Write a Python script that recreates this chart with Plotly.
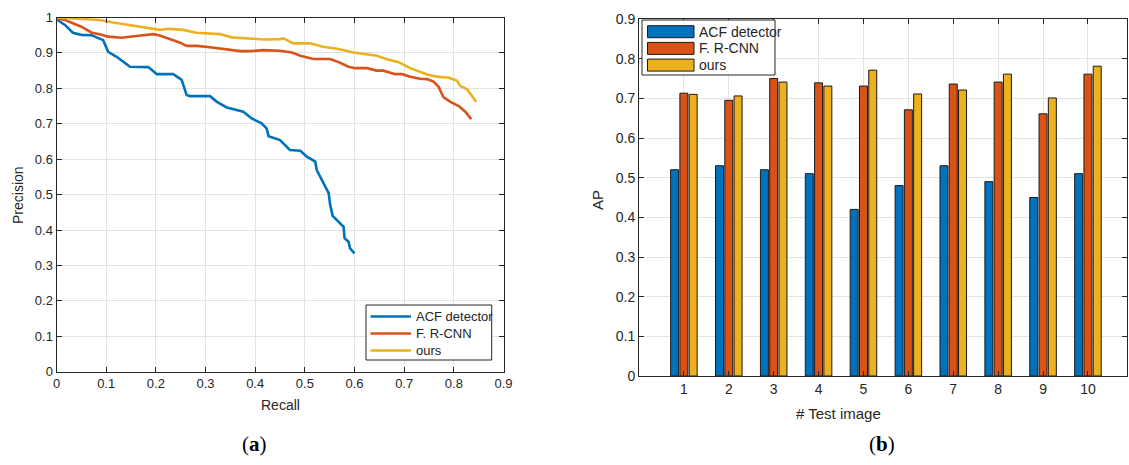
import plotly.graph_objects as go

# ---------------- data ----------------
series_names = ["ACF detector", "F. R-CNN", "ours"]

acf_recall = [0, 0.017, 0.033, 0.050, 0.071, 0.087, 0.094, 0.104, 0.121, 0.148, 0.161, 0.185, 0.202, 0.235,
              0.252, 0.262, 0.269, 0.309, 0.323, 0.343, 0.376, 0.393, 0.413, 0.423, 0.427, 0.450, 0.470,
              0.491, 0.504, 0.521, 0.524, 0.544, 0.548, 0.551, 0.556, 0.578, 0.580, 0.588, 0.591, 0.600]
acf_prec = [0.995, 0.979, 0.957, 0.951, 0.950, 0.941, 0.936, 0.903, 0.889, 0.861, 0.860, 0.860, 0.840, 0.840,
            0.824, 0.781, 0.778, 0.778, 0.762, 0.746, 0.734, 0.715, 0.701, 0.687, 0.665, 0.654, 0.626,
            0.624, 0.607, 0.593, 0.569, 0.518, 0.504, 0.471, 0.440, 0.409, 0.377, 0.367, 0.348, 0.334]

frcnn_recall = [0, 0.017, 0.033, 0.050, 0.071, 0.087, 0.104, 0.131, 0.161, 0.195, 0.208, 0.235, 0.249, 0.262,
                0.282, 0.309, 0.336, 0.370, 0.390, 0.417, 0.450, 0.474, 0.491, 0.517, 0.551, 0.568, 0.588,
                0.601, 0.625, 0.645, 0.658, 0.682, 0.696, 0.712, 0.732, 0.746, 0.759, 0.769, 0.779, 0.793,
                0.810, 0.823, 0.835]
frcnn_prec = [0.998, 0.993, 0.984, 0.974, 0.957, 0.953, 0.946, 0.943, 0.948, 0.953, 0.949, 0.936, 0.929, 0.920,
              0.920, 0.916, 0.912, 0.905, 0.905, 0.908, 0.906, 0.901, 0.892, 0.883, 0.883, 0.874, 0.861,
              0.857, 0.857, 0.850, 0.850, 0.840, 0.840, 0.833, 0.827, 0.826, 0.819, 0.805, 0.775, 0.762,
              0.750, 0.734, 0.713]

ours_recall = [0, 0.033, 0.054, 0.087, 0.114, 0.138, 0.154, 0.181, 0.208, 0.228, 0.255, 0.282, 0.309, 0.329,
               0.353, 0.390, 0.417, 0.450, 0.457, 0.477, 0.511, 0.534, 0.568, 0.598, 0.625, 0.645, 0.665,
               0.689, 0.712, 0.732, 0.749, 0.766, 0.790, 0.806, 0.813, 0.827, 0.845]
ours_prec = [1.0, 0.998, 0.995, 0.993, 0.986, 0.981, 0.977, 0.970, 0.965, 0.968, 0.965, 0.957, 0.955, 0.953,
             0.944, 0.940, 0.938, 0.939, 0.941, 0.927, 0.927, 0.918, 0.911, 0.901, 0.897, 0.892, 0.882,
             0.874, 0.857, 0.847, 0.838, 0.833, 0.830, 0.822, 0.807, 0.797, 0.762]

test_images = [1, 2, 3, 4, 5, 6, 7, 8, 9, 10]
acf_ap = [0.52, 0.53, 0.52, 0.51, 0.42, 0.48, 0.53, 0.49, 0.45, 0.51]
frcnn_ap = [0.713, 0.695, 0.75, 0.739, 0.731, 0.671, 0.736, 0.741, 0.661, 0.761]
ours_ap = [0.71, 0.706, 0.741, 0.731, 0.771, 0.711, 0.721, 0.761, 0.701, 0.781]

recall_ticks = [0, 0.1, 0.2, 0.3, 0.4, 0.5, 0.6, 0.7, 0.8, 0.9]
recall_ticklabels = ["0", "0.1", "0.2", "0.3", "0.4", "0.5", "0.6", "0.7", "0.8", "0.9"]
prec_ticks = [0, 0.1, 0.2, 0.3, 0.4, 0.5, 0.6, 0.7, 0.8, 0.9, 1.0]
prec_ticklabels = ["0", "0.1", "0.2", "0.3", "0.4", "0.5", "0.6", "0.7", "0.8", "0.9", "1"]
ap_ticks = [0, 0.1, 0.2, 0.3, 0.4, 0.5, 0.6, 0.7, 0.8, 0.9]
ap_ticklabels = ["0", "0.1", "0.2", "0.3", "0.4", "0.5", "0.6", "0.7", "0.8", "0.9"]

# ---------------- style ----------------
colors = ["#0072BD", "#D95319", "#EDB120"]
W, H = 1129, 465
FONT = "Liberation Sans, Arial, Helvetica, sans-serif"
SERIF = "Liberation Serif, DejaVu Serif, serif"
AX = "#262626"
GRID = "#e3e3e3"
EDGE = "#1a1a1a"

fig = go.Figure()

curves = [(acf_recall, acf_prec), (frcnn_recall, frcnn_prec), (ours_recall, ours_prec)]
for (rx, py), name, c in zip(curves, series_names, colors):
    fig.add_trace(go.Scatter(x=rx, y=py, mode="lines", name=name, showlegend=False,
                             line=dict(color=c, width=2.6), xaxis="x", yaxis="y"))

bars = [acf_ap, frcnn_ap, ours_ap]
for vals, name, c in zip(bars, series_names, colors):
    fig.add_trace(go.Bar(x=test_images, y=vals, name=name, showlegend=False,
                         marker=dict(color=c, line=dict(color=EDGE, width=1)),
                         xaxis="x2", yaxis="y2"))


def px_x(p):
    return p / W


def px_y(p):
    return 1 - p / H


axis_common = dict(showline=True, linecolor=AX, linewidth=1, mirror="ticks", ticks="inside",
                   ticklen=5, tickcolor=AX, tickwidth=1, showgrid=True, gridcolor=GRID, gridwidth=1,
                   zeroline=False, automargin=False)
font_l = dict(family=FONT, size=13, color=AX)
font_r = dict(family=FONT, size=14, color=AX)

shapes = []
annotations = []

# ---- legend (a): lines ----
shapes.append(dict(type="rect", xref="paper", yref="paper", x0=px_x(366), x1=px_x(491.7),
                   y0=px_y(360), y1=px_y(305), line=dict(color=AX, width=1), fillcolor="white", layer="above"))
for i, (name, c) in enumerate(zip(series_names, colors)):
    yy = 316.5 + 17 * i
    shapes.append(dict(type="line", xref="paper", yref="paper", x0=px_x(370.5), x1=px_x(411),
                       y0=px_y(yy), y1=px_y(yy), line=dict(color=c, width=2.6), layer="above"))
    annotations.append(dict(text=name, x=px_x(414), y=px_y(yy), xref="paper", yref="paper",
                            xanchor="left", yanchor="middle", showarrow=False, font=font_l))

# ---- legend (b): bars ----
shapes.append(dict(type="rect", xref="paper", yref="paper", x0=px_x(642), x1=px_x(775),
                   y0=px_y(75), y1=px_y(20), line=dict(color=AX, width=1), fillcolor="white", layer="above"))
for i, (name, c) in enumerate(zip(series_names, colors)):
    yy = 31.7 + 16.7 * i
    shapes.append(dict(type="rect", xref="paper", yref="paper", x0=px_x(647.5), x1=px_x(694),
                       y0=px_y(yy + 6), y1=px_y(yy - 6), line=dict(color=EDGE, width=1), fillcolor=c,
                       layer="above"))
    annotations.append(dict(text=name, x=px_x(696.5), y=px_y(yy), xref="paper", yref="paper",
                            xanchor="left", yanchor="middle", showarrow=False, font=font_r))

# ---- axis titles and captions ----
annotations += [
    dict(text="Recall", x=px_x(280), y=px_y(405), xref="paper", yref="paper", showarrow=False,
         xanchor="center", yanchor="middle", font=dict(family=FONT, size=14, color=AX)),
    dict(text="Precision", x=px_x(18), y=px_y(195), xref="paper", yref="paper", showarrow=False,
         textangle=-90, xanchor="center", yanchor="middle", font=dict(family=FONT, size=14, color=AX)),
    dict(text="# Test image", x=px_x(838), y=px_y(413), xref="paper", yref="paper", showarrow=False,
         xanchor="center", yanchor="middle", font=dict(family=FONT, size=15, color=AX)),
    dict(text="AP", x=px_x(597), y=px_y(200), xref="paper", yref="paper", showarrow=False,
         textangle=-90, xanchor="center", yanchor="middle", font=dict(family=FONT, size=15, color=AX)),
    dict(text="(<b>a</b>)", x=px_x(254), y=px_y(444), xref="paper", yref="paper", showarrow=False,
         xanchor="center", yanchor="middle", font=dict(family=SERIF, size=21, color="black")),
    dict(text="(<b>b</b>)", x=px_x(882), y=px_y(444), xref="paper", yref="paper", showarrow=False,
         xanchor="center", yanchor="middle", font=dict(family=SERIF, size=21, color="black")),
]

fig.update_layout(
    width=W, height=H,
    margin=dict(l=0, r=0, t=0, b=0, autoexpand=False),
    paper_bgcolor="white", plot_bgcolor="white",
    barmode="group", bargap=0.38, bargroupgap=0.14,
    font=dict(family=FONT, color=AX),
    showlegend=False,
    xaxis=dict(domain=[px_x(56.5), px_x(503.5)], range=[0, 0.9], tickvals=recall_ticks,
               ticktext=recall_ticklabels, anchor="y", tickfont=font_l, **axis_common),
    yaxis=dict(domain=[px_y(371.7), px_y(17.5)], range=[0, 1], tickvals=prec_ticks,
               ticktext=prec_ticklabels, anchor="x", tickfont=font_l, **axis_common),
    xaxis2=dict(domain=[px_x(639), px_x(1127)], range=[0, 10.87], tickvals=test_images,
                anchor="y2", tickfont=font_r, **axis_common),
    yaxis2=dict(domain=[px_y(376), px_y(19)], range=[0, 0.9], tickvals=ap_ticks,
                ticktext=ap_ticklabels, anchor="x2", tickfont=font_r, **axis_common),
    shapes=shapes,
    annotations=annotations,
)

fig.write_html("out.html")
